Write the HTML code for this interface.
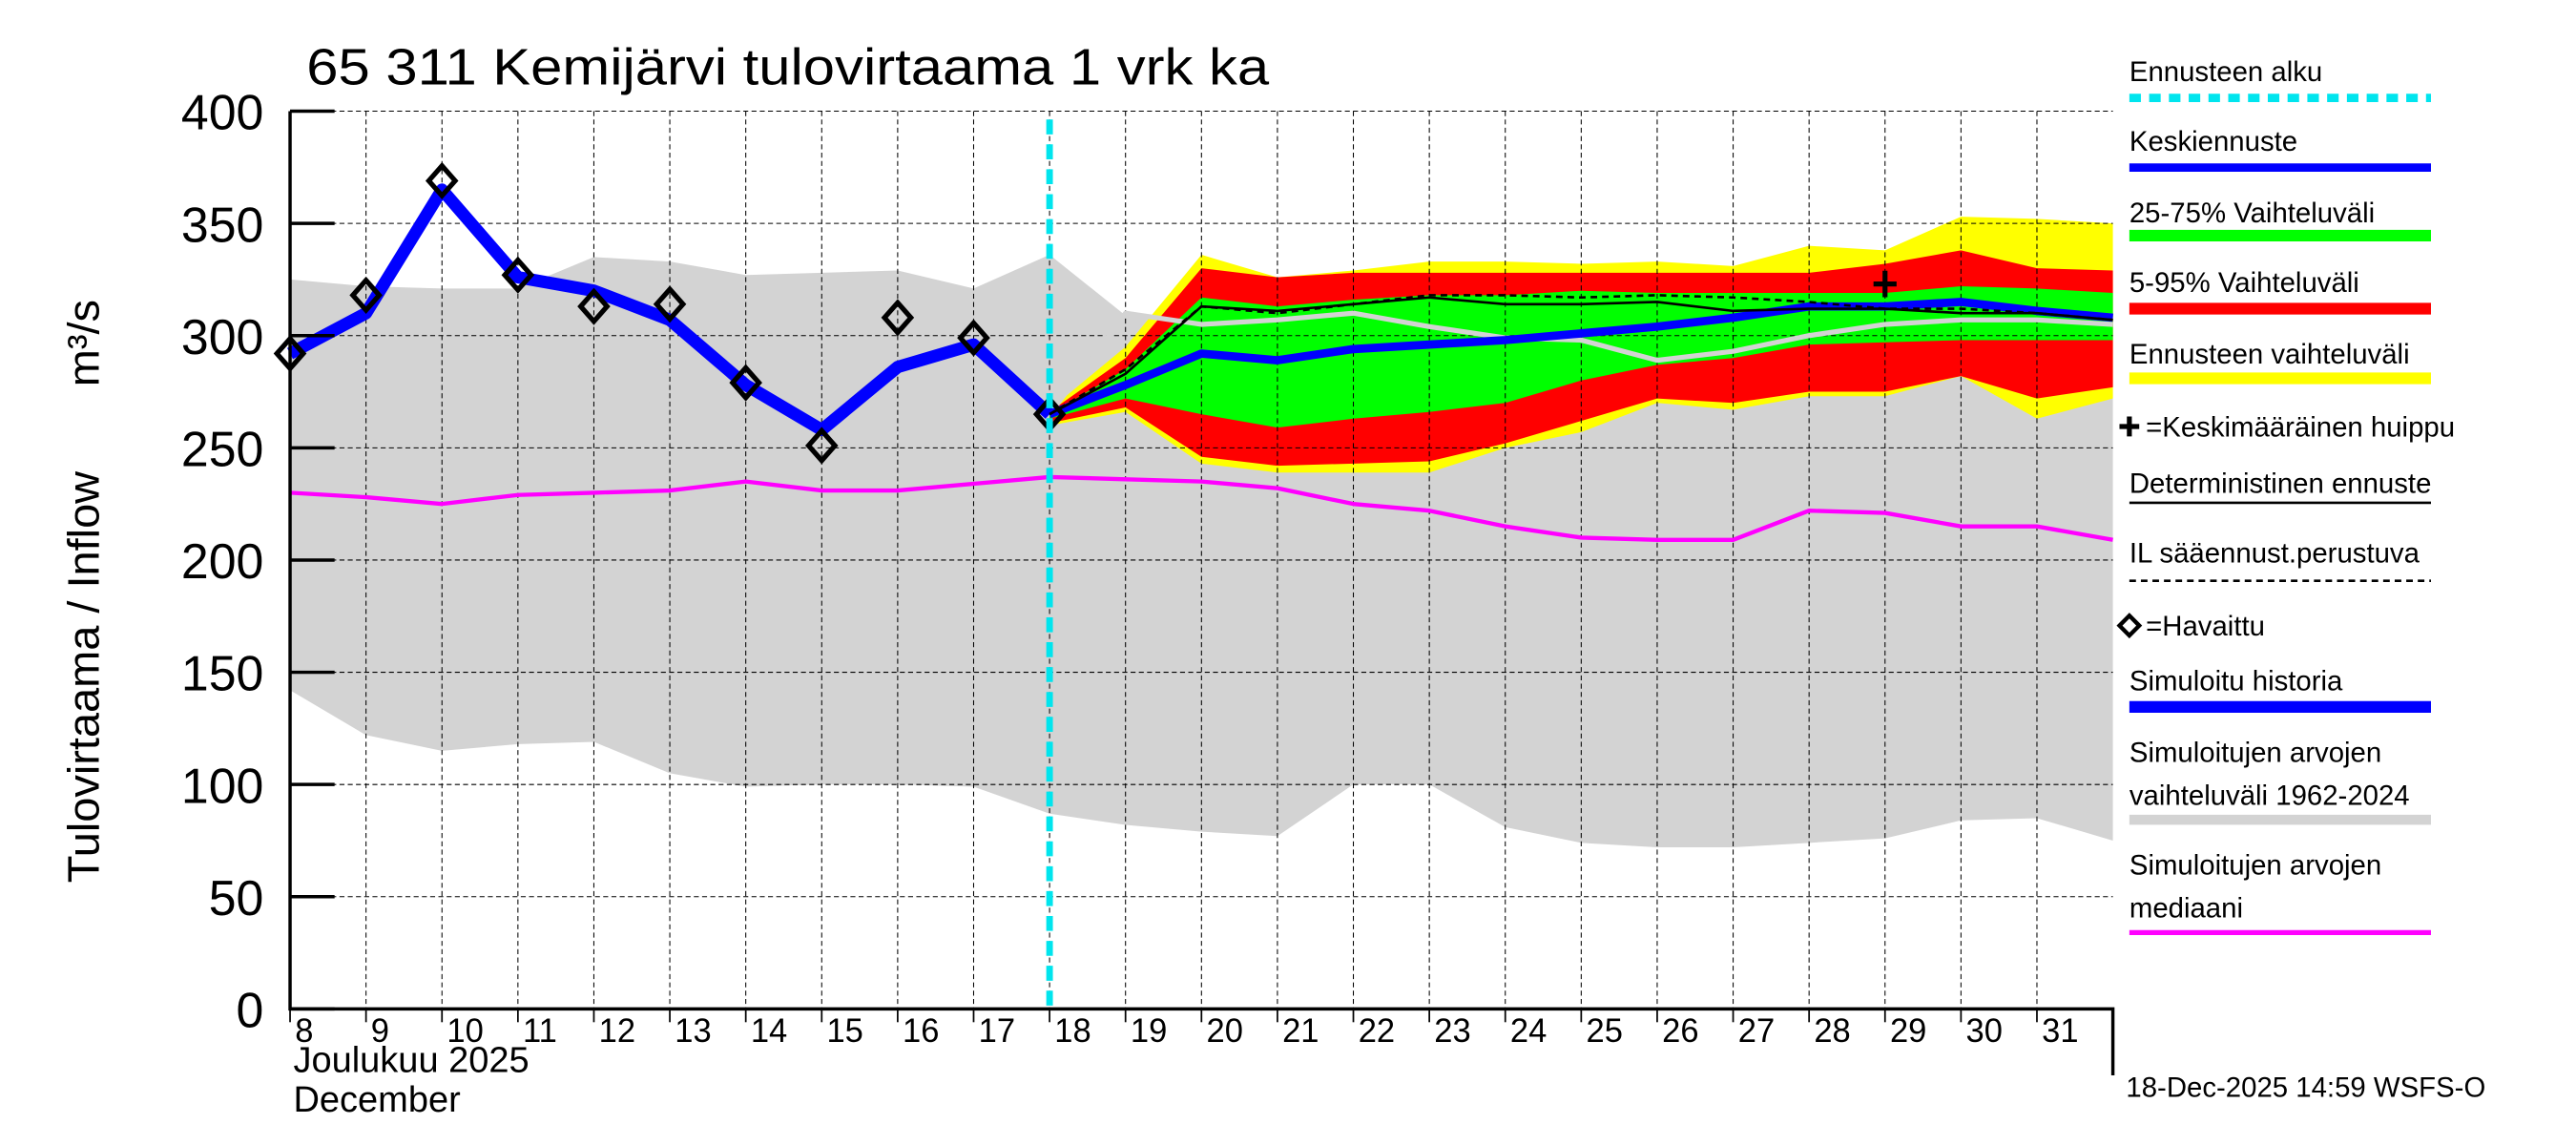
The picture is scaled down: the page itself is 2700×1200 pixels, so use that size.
<!DOCTYPE html>
<html><head><meta charset="utf-8"><style>
html,body{margin:0;padding:0;background:#fff;}
svg{display:block;font-family:"Liberation Sans",sans-serif;}
</style></head><body>
<svg id="chart" width="2700" height="1200" viewBox="0 0 1563 690" preserveAspectRatio="none" xmlns="http://www.w3.org/2000/svg">
<rect width="1563" height="690" fill="#fff"/>
<g id="bands"></g><g id="grid"></g><g id="lines"></g><g id="axes"></g><g id="legend"></g>
</svg>
<script>
const days=[8,9,10,11,12,13,14,15,16,17,18,19,20,21,22,23,24,25,26,27,28,29,30,31,32];
const dayLabels=[8,9,10,11,12,13,14,15,16,17,18,19,20,21,22,23,24,25,26,27,28,29,30,31];
const yTicks=[0,50,100,150,200,250,300,350,400];
const histDays=[8,9,10,11,12,13,14,15,16,17,18];
const simHistory=[292,310,365,326,320,307,278,258,286,296,265];
const observed=[292,318,369,327,313,314,279,251,308,299,265];
const greyTop=[325,322,321,321,335,333,327,328,329,321,336,309,305,308,311,305,304,301,300,301,302,303,304,306,305];
const greyBottom=[142,122,115,118,119,105,99,100,100,99,87,82,79,77,100,100,81,74,72,72,74,76,84,85,75];
const median=[230,228,225,229,230,231,235,231,231,234,237,236,235,232,225,222,215,210,209,209,222,221,215,215,209];
const fcDays=[18,19,20,21,22,23,24,25,26,27,28,29,30,31,32];
const simMedianLine=[265,310,305,307,310,304,299,298,289,293,300,305,307,307,305];
const yellowTop=[267,295,336,326,329,333,333,332,333,331,340,338,353,352,350];
const redTop=[266,290,330,326,328,328,328,328,328,328,328,332,338,330,329];
const greenTop=[265,285,317,313,316,318,318,320,319,319,319,319,322,321,319];
const greenBottom=[263,272,265,259,263,266,270,280,287,290,296,297,298,298,298];
const redBottom=[261,268,246,242,243,244,252,262,272,270,275,275,282,272,277];
const yellowBottom=[260,266,243,239,239,239,250,257,270,267,273,273,282,263,272];
const meanFc=[265,278,292,289,294,296,298,301,304,308,313,313,315,311,308];
const determ=[265,283,313,311,314,317,314,314,315,311,312,312,310,310,307];
const ilFc=[265,285,313,310,314,318,318,317,318,317,315,312,312,310,307];
const peakDay=[29]; const peakVal=[323];
const forecastStart=18;

const X0=176,X1=1282,Y0=608,Y1=67;
const x=d=>X0+(d-8)*(X1-X0)/24;
const y=v=>Y0-v*(Y0-Y1)/400;
const NS="http://www.w3.org/2000/svg";
function mk(parent,tag,attrs,text){const e=document.createElementNS(NS,tag);for(const k in attrs)e.setAttribute(k,attrs[k]);if(text!==undefined)e.textContent=text;document.getElementById(parent).appendChild(e);return e;}
function pts(ds,vs){return ds.map((d,i)=>x(d)+","+y(vs[i])).join(" ");}
function band(ds,top,bot,fill,name){const p=pts(ds,top)+" "+ds.slice().reverse().map((d,i)=>x(d)+","+y(bot[bot.length-1-i])).join(" ");const e=mk("bands","polygon",{points:p,fill:fill});

}
band(days,greyTop,greyBottom,"#d3d3d3","historical-range-band");
band(fcDays,yellowTop,yellowBottom,"#ffff00","forecast-range-band");
band(fcDays,redTop,redBottom,"#ff0000","band-5-95");
band(fcDays,greenTop,greenBottom,"#00ff00","band-25-75");
dayLabels.forEach(d=>{const e=mk("grid","line",{x1:x(d),x2:x(d),y1:Y1,y2:Y0,stroke:"#000","stroke-width":0.6,"stroke-dasharray":"3,2"});

});
yTicks.forEach(v=>{const e=mk("grid","line",{x1:X0,x2:X1,y1:y(v),y2:y(v),stroke:"#000","stroke-width":0.6,"stroke-dasharray":"3,2"});

});
function line(ds,vs,col,w,name,dash){const a={points:pts(ds,vs),fill:"none",stroke:col,"stroke-width":w,"stroke-linejoin":"round"};if(dash)a["stroke-dasharray"]=dash;const e=mk("lines","polyline",a);

}
line(days,median,"#ff00ff",2.5,"median-line");
line(fcDays,simMedianLine,"#d3d3d3",3,"simulated-median-line");
line(histDays,simHistory,"#0000ff",7.5,"simulated-history-line");
line(fcDays,meanFc,"#0000ff",5,"mean-forecast-line");
line(fcDays,determ,"#000",1.5,"deterministic-forecast-line");
line(fcDays,ilFc,"#000",1.5,"il-forecast-line","4,3");
histDays.forEach((d,i)=>{const cx=x(d),cy=y(observed[i]);const e=mk("lines","polygon",{points:`${cx},${cy-9} ${cx+8},${cy} ${cx},${cy+9} ${cx-8},${cy}`,fill:"none",stroke:"#000","stroke-width":3});

});
peakDay.forEach((d,i)=>{const e=mk("lines","path",{d:`M${x(d)-7},${y(peakVal[i])}h14M${x(d)},${y(peakVal[i])-8}v16`,stroke:"#000","stroke-width":3});

});
{const e=mk("lines","line",{x1:x(forecastStart),x2:x(forecastStart),y1:Y1+5,y2:Y0,stroke:"#00e5ee","stroke-width":4,"stroke-dasharray":"9,6"});

}
{const e=mk("axes","path",{d:`M${X0},${Y1}V${Y0}H${X1}V${Y0+40}`,fill:"none",stroke:"#000","stroke-width":2});

}
yTicks.forEach(v=>{const t=mk("axes","line",{x1:X0,x2:X0+27,y1:y(v),y2:y(v),stroke:"#000","stroke-width":2});


const e=mk("axes","text",{x:160,y:y(v)+11,"text-anchor":"end","font-size":30},String(v));

});
dayLabels.forEach(d=>{const t=mk("axes","line",{x1:x(d),x2:x(d),y1:Y0,y2:Y0+8,stroke:"#000","stroke-width":1});


const e=mk("axes","text",{x:x(d)+3,y:Y0+20,"font-size":20},String(d));

});
[["Joulukuu  2025",646,"x-axis-month"],["December",670,"x-axis-month-en"]].forEach(a=>{const e=mk("axes","text",{x:178,y:a[1],"font-size":22},a[0]);

});
{const e=mk("axes","text",{x:186,y:51,"font-size":31,textLength:584,lengthAdjust:"spacingAndGlyphs"},"65 311 Kemijärvi tulovirtaama 1 vrk ka");

}
{const e=mk("axes","text",{x:0,y:0,"font-size":27,transform:"translate(60,532) rotate(-90)"},"Tulovirtaama / Inflow");

}
{const e=mk("axes","text",{x:0,y:0,"font-size":27,transform:"translate(60,233) rotate(-90)"},"m³/s");

}
{const e=mk("axes","text",{x:1290,y:661,"font-size":17},"18-Dec-2025 14:59 WSFS-O");

}
const L=[["Ennusteen alku",49,59,"#00e5ee",5,"7,5"],["Keskiennuste",91,101,"#0000ff",5],["25-75% Vaihteluväli",134,142,"#00ff00",7],["5-95% Vaihteluväli",176,186,"#ff0000",7],["Ennusteen vaihteluväli",219,228,"#ffff00",7],["=Keskimääräinen huippu",263,null],["Deterministinen ennuste",297,303,"#000",1.5],["IL sääennust.perustuva",339,350,"#000",1.5,"4,3"],["=Havaittu",383,null],["Simuloitu historia",416,426,"#0000ff",7],["Simuloitujen arvojen",459,null],["vaihteluväli 1962-2024",485,494,"#d3d3d3",6],["Simuloitujen arvojen",527,null],["mediaani",553,562,"#ff00ff",3]];
L.forEach(l=>{const tx=(l[0][0]=="=")?1302:1292;const e=mk("legend","text",{x:tx,y:l[1],"font-size":17},l[0]);


if(l[2]!==null){const a={x1:1292,x2:1475,y1:l[2],y2:l[2],stroke:l[3],"stroke-width":l[4]};if(l[5])a["stroke-dasharray"]=l[5];const s=mk("legend","line",a);

}});
{const e=mk("legend","path",{d:"M1286,257h12M1292,251v12",stroke:"#000","stroke-width":3});

}
{const e=mk("legend","polygon",{points:"1292,371 1298,377 1292,383 1286,377",fill:"none",stroke:"#000","stroke-width":2.5});

}
</script>
</body></html>
